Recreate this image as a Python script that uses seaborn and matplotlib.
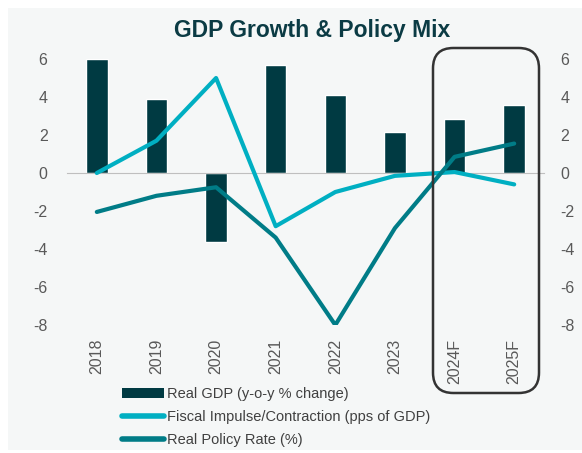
import numpy as np
import pandas as pd
import seaborn as sns
import matplotlib.pyplot as plt
from matplotlib.patches import Rectangle, FancyBboxPatch, Patch
from matplotlib.lines import Line2D

# Dados do gráfico
anos = ['2018', '2019', '2020', '2021', '2022', '2023', '2024F', '2025F']
pib_real = [6.0, 3.9, -3.65, 5.7, 4.1, 2.15, 2.85, 3.6]
impulso_fiscal = [0.0, 1.7, 5.0, -2.8, -1.0, -0.15, 0.05, -0.6]
juro_real = [-2.05, -1.2, -0.75, -3.4, -8.0, -2.9, 0.85, 1.55]

cor_pib = '#003A42'
cor_fiscal = '#00AFC2'
cor_juro = '#007C87'
cor_texto = '#595959'
fundo = '#F5F7F7'

df = pd.DataFrame({'ano': anos, 'pib': pib_real,
                   'fiscal': impulso_fiscal, 'juro': juro_real})
df['pos'] = np.arange(len(anos))

sns.set_style('white')
plt.rcParams['font.family'] = ['Liberation Sans', 'DejaVu Sans']
plt.rcParams['axes.unicode_minus'] = False

fig = plt.figure(figsize=(5.82, 4.53), dpi=100, facecolor='white')
fig.patches.append(Rectangle((8 / 582, 3 / 453), 1 - 8 / 582, 1 - 11 / 453,
                             transform=fig.transFigure, facecolor=fundo,
                             edgecolor='none', zorder=-10))
ax = fig.add_axes([67 / 582, 1 - 325 / 453, (544 - 67) / 582, (325 - 59) / 453])
ax.set_facecolor('none')

sns.barplot(data=df, x='pos', y='pib', color=cor_pib, width=0.36,
            saturation=1, native_scale=True, ax=ax, zorder=2)
sns.lineplot(data=df, x='pos', y='fiscal', color=cor_fiscal, lw=3,
             sort=False, ax=ax, zorder=3)
sns.lineplot(data=df, x='pos', y='juro', color=cor_juro, lw=3,
             sort=False, ax=ax, zorder=4)

ax.set_xlim(-0.5, len(anos) - 0.5)
ax.set_ylim(-8, 6)
ax.set_xlabel('')
ax.set_ylabel('')
ax.set_yticks(range(-8, 7, 2))
ax.tick_params(axis='y', length=0, labelsize=11.5, labelcolor=cor_texto, pad=14)
for s in ['top', 'right', 'left']:
    ax.spines[s].set_visible(False)

# eixo horizontal no zero com marcas entre categorias
ax.spines['bottom'].set_position(('data', 0))
ax.spines['bottom'].set_color('#BFBFBF')
ax.set_xticks(np.arange(-0.5, len(anos), 1))
ax.set_xticklabels([])
ax.tick_params(axis='x', length=4, color='#BFBFBF', direction='out')

sec = ax.secondary_xaxis('bottom')
sec.set_xticks(df['pos'])
sec.set_xticklabels(anos, rotation=90)
sec.tick_params(length=0, labelsize=11.5, labelcolor=cor_texto, pad=10)
sec.spines['bottom'].set_visible(False)

ax2 = ax.twinx()
ax2.set_ylim(-8, 6)
ax2.set_yticks(range(-8, 7, 2))
ax2.tick_params(axis='y', length=0, labelsize=11.5, labelcolor=cor_texto, pad=12)
for s in ax2.spines.values():
    s.set_visible(False)

fig.text(312 / 582, 1 - 31 / 453, 'GDP Growth & Policy Mix', ha='center',
         va='center', fontsize=16.5, fontweight='bold', color='#0B3B44')

# destaque das previsões
fig.patches.append(FancyBboxPatch((433 / 582, 1 - 393 / 453), 106 / 582, 345 / 453,
                                  boxstyle='round,pad=0,rounding_size=0.035',
                                  transform=fig.transFigure, facecolor='none',
                                  edgecolor='#333333', lw=1.8, zorder=5,
                                  mutation_aspect=582 / 453))

handles = [Patch(facecolor=cor_pib, edgecolor='none'),
           Line2D([], [], color=cor_fiscal, lw=4),
           Line2D([], [], color=cor_juro, lw=4)]
labels = ['Real GDP (y-o-y % change)',
          'Fiscal Impulse/Contraction (pps of GDP)',
          'Real Policy Rate (%)']
leg = fig.legend(handles, labels, loc='upper left',
                 bbox_to_anchor=(122 / 582, 1 - 387 / 453), frameon=False,
                 fontsize=10.5, handlelength=2.9, handletextpad=0.2,
                 labelspacing=0.62, borderpad=0, borderaxespad=0)
for t in leg.get_texts():
    t.set_color('#404040')

fig.savefig('out.png', dpi=100, facecolor='white')
